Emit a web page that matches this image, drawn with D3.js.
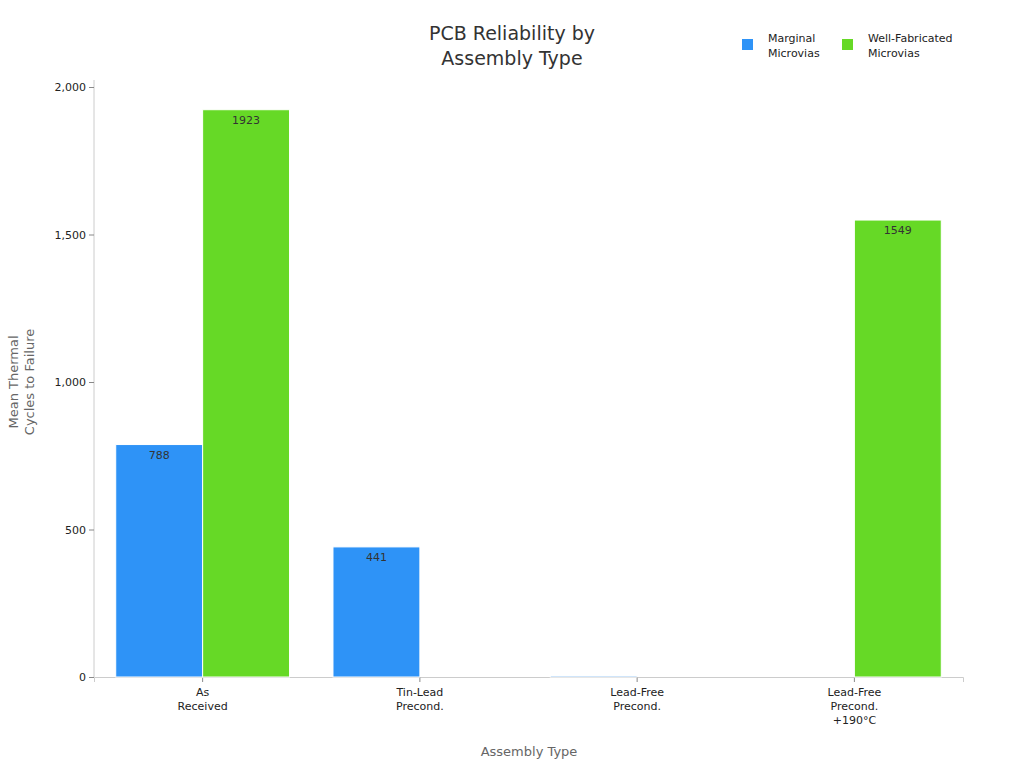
<!DOCTYPE html><html><head><meta charset="utf-8"><script src="https://cdn.jsdelivr.net/npm/d3@7"></script>
<style>body{margin:0;background:#fff;font-family:"DejaVu Sans",sans-serif}</style></head><body><svg id="c" width="1024" height="768"></svg>
<script>
const categories=[["As","Received"],["Tin-Lead","Precond."],["Lead-Free","Precond."],["Lead-Free","Precond.","+190°C"]];
const seriesNames=[["Marginal","Microvias"],["Well-Fabricated","Microvias"]];
const marginal=[788,441,5,0];
const wellFab=[1923,0,0,1549];
const yTicks=[0,500,1000,1500,2000];
const colors=["#2e93f7","#66d926"];
const svg=d3.select("#c");
const m={l:94,r:963,t:87,b:677};
const x=d3.scaleBand().domain(d3.range(4)).range([m.l,m.r]).paddingInner(0.2).paddingOuter(0.1);
const y=d3.scaleLinear().domain([0,2000]).range([m.b,m.t]);
const xs=d3.scaleBand().domain([0,1]).range([0,x.bandwidth()]);
const ya=svg.append("g").attr("transform",`translate(${m.l},0)`).call(d3.axisLeft(y).tickValues(yTicks).tickSize(5));
ya.select(".domain").attr("stroke","#ccc").attr("d",`M-0,${m.b}V80`);
ya.selectAll(".tick line").attr("stroke","#888");
ya.selectAll("text").attr("font-size",11).attr("fill","#222").attr("font-family","DejaVu Sans");
const xa=svg.append("g").attr("transform",`translate(0,${m.b})`).call(d3.axisBottom(x).tickSize(5).tickFormat(""));
xa.select(".domain").attr("stroke","#ccc");
xa.selectAll(".tick line").attr("stroke","#888");
categories.forEach((c,i)=>{const t=svg.append("text").attr("x",x(i)+x.bandwidth()/2).attr("y",m.b+19).attr("text-anchor","middle").attr("font-size",11).attr("fill","#222");
c.forEach((l,j)=>t.append("tspan").attr("x",x(i)+x.bandwidth()/2).attr("dy",j?14:0).text(l));});
[marginal,wellFab].forEach((s,k)=>{
 s.forEach((v,i)=>{if(v<=0)return;
  svg.append("rect").attr("x",x(i)+xs(k)).attr("width",xs.bandwidth()).attr("y",y(v)).attr("height",y(0)-y(v))
   .attr("fill",v<20?"#9cc8f5":colors[k]).attr("stroke","#fff").attr("stroke-width",1);
  if(v>=20)svg.append("text").attr("x",x(i)+xs(k)+xs.bandwidth()/2).attr("y",y(v)+14).attr("text-anchor","middle").attr("font-size",11).attr("fill","#333").text(v);
 });});
const tt=svg.append("text").attr("text-anchor","middle").attr("font-size",19).attr("fill","#333");
tt.append("tspan").attr("x",512).attr("y",40).text("PCB Reliability by");
tt.append("tspan").attr("x",512).attr("dy",25).text("Assembly Type");
svg.append("text").attr("x",529).attr("y",756).attr("text-anchor","middle").attr("font-size",13).attr("fill","#666").text("Assembly Type");
const yl=svg.append("text").attr("transform","translate(18,382) rotate(-90)").attr("text-anchor","middle").attr("font-size",13).attr("fill","#666");
yl.append("tspan").attr("x",0).attr("y",0).text("Mean Thermal");
yl.append("tspan").attr("x",0).attr("dy",16).text("Cycles to Failure");
[742,842].forEach((lx,k)=>{svg.append("rect").attr("x",lx).attr("y",39).attr("width",11).attr("height",11).attr("fill",colors[k]);
 const t=svg.append("text").attr("font-size",11).attr("fill","#222");
 seriesNames[k].forEach((l,j)=>t.append("tspan").attr("x",lx+26).attr("y",42+j*15).text(l));});
</script></body></html>
